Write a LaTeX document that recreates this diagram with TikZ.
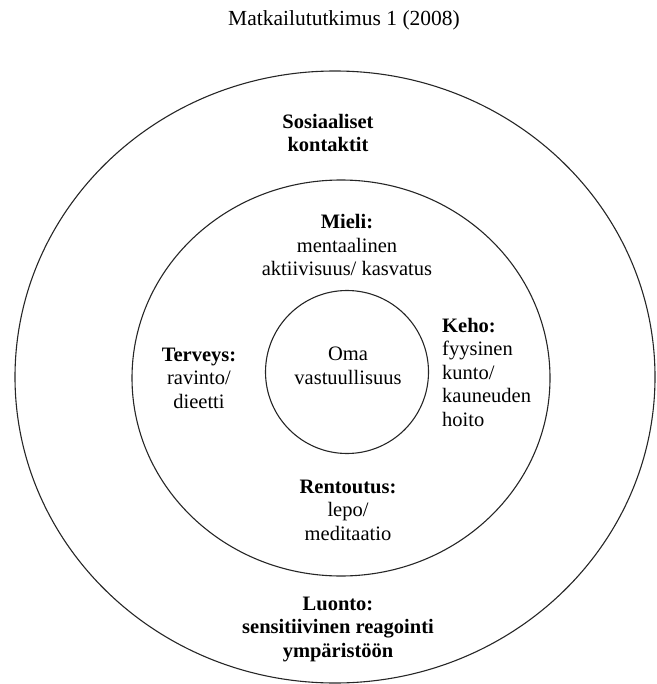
\documentclass[tikz,border=0pt]{standalone}
\usepackage{fontspec}
\setmainfont{Liberation Serif}

\begin{document}
\begin{tikzpicture}[x=1pt,y=-1pt]
  \tikzstyle{ring} = [draw, line width=1.1pt, black!85]
  \tikzstyle{txt} = [align=center, inner sep=0pt, font=\fontsize{20.5}{23.5}\selectfont]
  \tikzstyle{head} = [txt, font=\fontsize{20.5}{23.5}\selectfont\bfseries]
\useasboundingbox (0,0) rectangle (656,684);
% rings
\draw[ring] (335,377) ellipse [x radius=320pt, y radius=306pt];
\draw[ring] (341,378) ellipse [x radius=209pt, y radius=198pt];
\draw[ring] (347,372) circle [radius=81.5pt];
% texts
\node[txt, font=\fontsize{21.5}{24}\selectfont] (title) at (344,20) {Matkailututkimus 1 (2008)};
\node[head] (sos) at (328,133) {Sosiaaliset\\kontaktit};
\node[txt] (mieli) at (347,245) {\textbf{Mieli:}\\mentaalinen\\aktiivisuus/ kasvatus};
\node[txt] (terveys) at (199,378) {\textbf{Terveys:}\\ravinto/\\dieetti};
\node[txt] (oma) at (348,366) {Oma\\vastuullisuus};
\node[txt, align=left, anchor=west] (keho) at (442,372) {\textbf{Keho:}\\fyysinen\\kunto/\\kauneuden\\hoito};
\node[txt] (rentoutus) at (348,510) {\textbf{Rentoutus:}\\lepo/\\meditaatio};
\node[head] (luonto) at (338,629) {Luonto:\\sensitiivinen reagointi\\ympäristöön};
\end{tikzpicture}
\end{document}
